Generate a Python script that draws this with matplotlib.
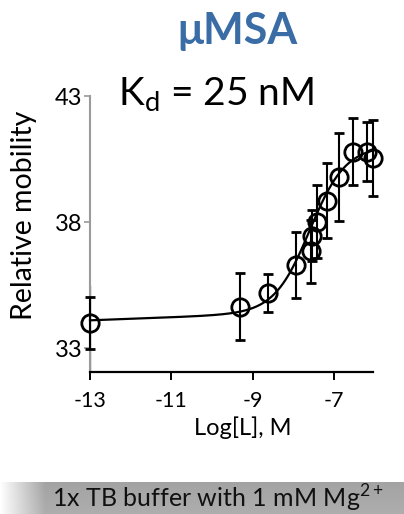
import numpy as np
import matplotlib
matplotlib.use("Agg")
import matplotlib.pyplot as plt
from matplotlib.ticker import FixedLocator

plt.rcParams['font.family'] = ['Lato', 'DejaVu Sans']
plt.rcParams['mathtext.fontset'] = 'custom'
plt.rcParams['mathtext.rm'] = 'Lato'

# Titration data: log ligand concentration vs relative mobility
log_conc = [-13.0, -9.31, -8.63, -7.93, -7.58, -7.55, -7.43, -7.18, -6.88, -6.55, -6.19, -6.04]
mobility = [34.01, 34.64, 35.17, 36.29, 36.85, 37.46, 38.01, 38.85, 39.79, 40.79, 40.79, 40.54]
mobility_err = [1.03, 1.32, 0.75, 1.32, 1.25, 1.00, 1.45, 1.50, 1.73, 1.33, 1.17, 1.50]

# Binding fit parameters
kd_molar = 25e-9
fit_base = 34.10
fit_drift = 0.06
fit_amp = 6.5

x_ticks = [-13, -11, -9, -7]
y_ticks = [33, 38, 43]

W, H = 404, 514
fig = plt.figure(figsize=(W / 100, H / 100), dpi=100)

ax = fig.add_axes([90 / W, 1 - 372 / H, 283.3 / W, 276 / H])
ax.set_xlim(-13, -6.04)
ax.set_ylim(32.05, 43)

# fitted binding curve
xf = np.linspace(-13, -6.04, 400)
L = 10.0 ** xf
yf = fit_base + fit_drift * (xf + 13) + fit_amp * L / (kd_molar + L)
ax.plot(xf, yf, color='black', lw=1.6, zorder=3, clip_on=False)

ax.errorbar(log_conc, mobility, yerr=mobility_err, fmt='o', ms=12.5,
            mfc='none', mec='black', mew=2.0, ecolor='black', elinewidth=1.5,
            capsize=3.6, capthick=1.5, zorder=4, clip_on=False)

for side in ['top', 'right']:
    ax.spines[side].set_visible(False)
ax.spines['left'].set_color('#9a9a9a')
ax.spines['left'].set_linewidth(1.5)
ax.spines['bottom'].set_color('black')
ax.spines['bottom'].set_linewidth(1.6)
ax.axvline(-13, ymin=0, ymax=(35.42 - 32.05) / (43 - 32.05), color='black', lw=1.6, zorder=2)

ax.xaxis.set_major_locator(FixedLocator(x_ticks))
ax.yaxis.set_major_locator(FixedLocator(y_ticks))
ax.set_xticklabels([str(v) for v in x_ticks])
ax.set_yticklabels([str(v) for v in y_ticks])
ax.tick_params(axis='x', direction='out', length=6, width=1.4, color='black',
               labelsize=15.5, pad=8, labelcolor='black')
ax.tick_params(axis='y', direction='out', length=4.5, width=1.2, color='#9a9a9a',
               labelsize=17, pad=1, labelcolor='black')

fig.text(24 / W, 1 - 215 / H, 'Relative mobility', rotation=90, ha='center', va='center',
         fontsize=20.5)
fig.text(243 / W, 1 - 428 / H, 'Log[L], M', ha='center', va='center', fontsize=17)

fig.text(237 / W, 1 - 31 / H, 'μMSA', ha='center', va='center', fontsize=31,
         fontweight='bold', color='#3A6DA6')
fig.text(216 / W, 1 - 95 / H, r'K$_\mathregular{d}$ = 25 nM', ha='center', va='center',
         fontsize=28)

# grey caption band along the bottom
band = fig.add_axes([0, 0, 1, 32 / H])
band.set_axis_off()
gx = np.clip(np.linspace(0, W, 404) / 45.0, 0, 1)
gy = np.linspace(0, 1, 32)[:, None]
grey = 0.68 - 0.04 * (1 - gy)
img = 1 - (1 - grey) * gx[None, :]
band.imshow(np.dstack([img, img, img]), aspect='auto', extent=[0, 1, 0, 1],
            interpolation='bilinear')
band.set_xlim(0, 1)
band.set_ylim(0, 1)
band.text(52 / W, 0.48, r'1x TB buffer with 1 mM Mg$^{2+}$', ha='left', va='center',
          fontsize=18, color='#111111', transform=band.transAxes)

fig.savefig('out.png', dpi=100)
